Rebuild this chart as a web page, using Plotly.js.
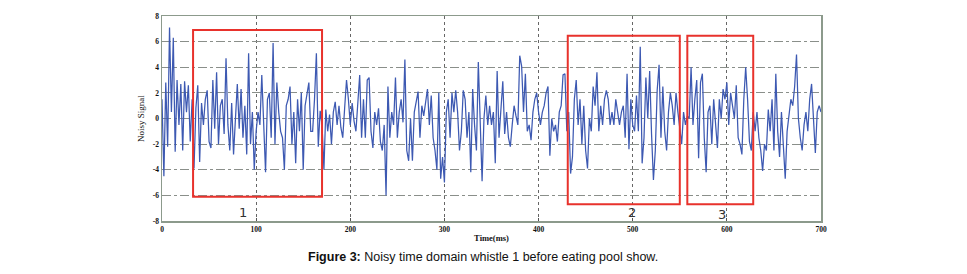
<!DOCTYPE html>
<html>
<head>
<meta charset="utf-8">
<script src="https://cdn.plot.ly/plotly-3.0.1.min.js"></script>
<style>html,body{margin:0;padding:0;background:#fff;}#chart{width:967px;height:274px;}</style>
</head>
<body>
<div id="chart"></div>
<script>
// Sample spacing of the series (ms)
const timeStep = 2;
// Noisy signal values, one per 2 ms from 0 to 700 ms
const noisySignal = [
  1.5, -4.5, 2.8, -2.2, 7.1, 0.5, 6.3, -2.6, 3.0, -0.5,
  2.7, -2.5, 2.9, 0.5, 2.6, -1.8, 1.5, -3.9, 0.8, 2.6,
  -3.4, 1.2, -0.5, 1.5, 2.2, -1.8, -2.3, 3.0, -0.8, 3.6,
  -2.0, 1.0, 1.5, -1.2, 4.7, -0.5, -2.5, 1.2, -2.8, 0.5,
  2.7, -0.8, 2.3, -1.5, 1.0, -2.8, 5.1, -2.0, 0.5, -4.0,
  -1.0, 0.5, -0.5, 3.4, -1.0, -4.2, 1.5, 2.0, -1.5, 5.9,
  -2.0, 2.8, 0.5, -1.0, -1.5, -4.0, 1.0, 1.5, 2.5, -2.0,
  0.5, -3.5, 1.5, -1.0, 2.0, -4.0, 1.0, 2.0, 2.8, -1.0,
  -1.0, 1.5, 5.1, -2.2, 0.6, -0.5, -4.0, 0.7, -1.0, 0.3,
  -2.0, 0.5, 1.3, -0.5, 1.0, -0.7, -1.5, 0.8, 3.0, 1.5,
  -0.5, 1.2, -0.2, -1.0, 1.0, 3.4, -1.5, 1.5, -1.5, 3.0,
  3.2, -1.0, -2.3, 0.5, -0.5, 0.8, -1.8, -2.5, -0.5, -6.0,
  2.5, -1.5, 0.5, -0.5, 3.2, -1.5, 0.5, 1.5, -0.3, 4.6,
  -2.5, -3.3, 0.0, -3.3, 0.5, 1.5, 2.1, -1.5, 1.0, 0.2,
  1.2, 2.3, -0.5, 1.8, -1.5, -2.5, -4.0, 2.0, -4.7, -3.0,
  -5.0, 0.5, 1.5, -1.5, 2.0, 0.5, 2.2, 0.5, -2.5, -1.0,
  2.2, 1.5, -1.5, 0.5, -4.2, 2.3, -0.5, -2.5, 4.4, 0.0,
  -4.9, 0.0, 1.8, -0.5, 1.0, -0.5, 0.5, -3.5, 3.7, -1.5,
  0.5, 2.9, -1.2, 0.5, -1.5, -2.2, -0.5, 1.0, 0.2, -0.5,
  4.9, 4.1, 0.5, 3.5, -1.0, -0.5, -1.7, 0.5, 1.5, 2.0,
  0.5, -0.5, 0.5, 1.0, 2.0, 2.5, -2.9, 0.0, -1.0, -0.5,
  -1.8, 0.5, 1.0, 3.4, 3.5, -1.0, 0.5, -4.3, -3.0, 1.5,
  3.0, -0.5, 1.5, -2.0, 1.0, -2.5, -3.9, 0.0, -1.0, 2.5,
  1.0, 3.6, -1.0, 1.0, -0.5, 1.5, 2.2, 1.5, -0.5, 0.5,
  -0.5, 1.5, 0.5, -0.5, 0.5, 1.0, -1.5, 3.5, -2.4, 1.5,
  -0.5, -1.0, 1.8, -1.0, 5.6, -3.5, -1.5, 3.2, 0.0, 3.7,
  -1.2, -4.8, -2.5, 2.2, 4.2, -1.5, 2.5, -1.0, -2.5, 0.5,
  2.0, 1.0, -0.5, 2.0, 0.5, -1.0, -2.0, 0.5, -0.5, 0.2,
  0.0, 4.0, -0.5, 1.5, 3.0, -3.1, 2.8, 3.5, -1.5, -4.2,
  0.5, 1.0, -2.0, 1.5, -0.5, -2.3, 1.5, 0.0, 2.3, 1.5,
  2.8, -0.5, 2.0, 1.0, 0.0, 2.6, -1.5, -2.0, -2.8, 1.5,
  4.0, 1.5, -1.8, -2.5, 0.5, -1.0, 0.5, -1.5, -2.5, -4.1,
  -2.0, -2.5, 0.7, -1.0, 1.5, -2.5, 3.5, -1.0, -3.0, 0.5,
  -2.0, -4.7, -1.0, 0.5, 1.5, 1.0, 2.5, 5.0, 0.0, -1.5,
  -2.5, -0.5, 0.5, -1.0, 1.5, 2.7, -0.5, -2.7, 0.5, 1.0,
  0.5
];
// Highlighted regions (ms and signal units) and their labels
const regionLabels = ["1", "2", "3"];
const regionStart = [33, 431, 558];
const regionEnd = [170, 550, 628];
const regionTop = [6.9, 6.45, 6.45];
const regionBottom = [-6.1, -6.7, -6.7];
const labelX = [86, 499, 595];
const labelY = [-7.3, -7.3, -7.5];
// Axis ticks
const xTicks = [0, 100, 200, 300, 400, 500, 600, 700];
const yTicks = [-8, -6, -4, -2, 0, 2, 4, 6, 8];

const timeValues = noisySignal.map((v, i) => i * timeStep);

const trace = {
  x: timeValues,
  y: noisySignal,
  type: 'scatter',
  mode: 'lines',
  line: {color: '#3d59b2', width: 1.25},
  hoverinfo: 'skip'
};

const shapes = regionStart.map((s, i) => ({
  type: 'rect', xref: 'x', yref: 'y',
  x0: s, x1: regionEnd[i], y0: regionBottom[i], y1: regionTop[i],
  line: {color: '#e8322c', width: 2}, fillcolor: 'rgba(0,0,0,0)'
}));

const annotations = regionLabels.map((t, i) => ({
  x: labelX[i], y: labelY[i], xref: 'x', yref: 'y', text: t, showarrow: false,
  font: {family: 'DejaVu Sans', size: 13, color: '#333'}
}));
annotations.push({
  xref: 'paper', yref: 'paper', x: 0.487, y: -0.175, xanchor: 'center', yanchor: 'middle',
  text: '<b>Figure 3:</b> Noisy time domain whistle 1 before eating pool show.',
  showarrow: false, font: {family: 'Liberation Sans, Arial', size: 12.5, color: '#111'}
});

const tickFont = {family: 'Liberation Serif, Times New Roman, serif', size: 7.5, color: '#111', weight: 'bold'};

const layout = {
  width: 967, height: 274,
  margin: {l: 162, r: 146, t: 16, b: 53},
  paper_bgcolor: '#fff', plot_bgcolor: '#fff',
  showlegend: false,
  xaxis: {
    range: [0, 700], tickvals: xTicks, ticktext: xTicks.map(String),
    showgrid: true, gridcolor: '#666', griddash: 'dot', gridwidth: 1,
    zeroline: false, showline: true, mirror: true, linecolor: '#8c9a8c', linewidth: 1.5,
    ticks: 'inside', ticklen: 3, tickcolor: '#555',
    tickfont: tickFont,
    title: {text: '<b>Time(ms)</b>', font: {family: 'Liberation Serif, serif', size: 8.5, color: '#111'}, standoff: 2}
  },
  yaxis: {
    range: [-8, 8], tickvals: yTicks, ticktext: yTicks.map(String),
    showgrid: true, gridcolor: '#8a8f8a', griddash: 'dashdot', gridwidth: 1,
    zeroline: false, showline: true, mirror: true, linecolor: '#8c9a8c', linewidth: 1.5,
    ticks: '', tickfont: tickFont,
    title: {text: 'Noisy Signal', font: {family: 'Liberation Serif, serif', size: 9, color: '#111'}, standoff: 6}
  },
  shapes: shapes,
  annotations: annotations
};

Plotly.newPlot('chart', [trace], layout, {displayModeBar: false, staticPlot: true});
</script>
</body>
</html>
